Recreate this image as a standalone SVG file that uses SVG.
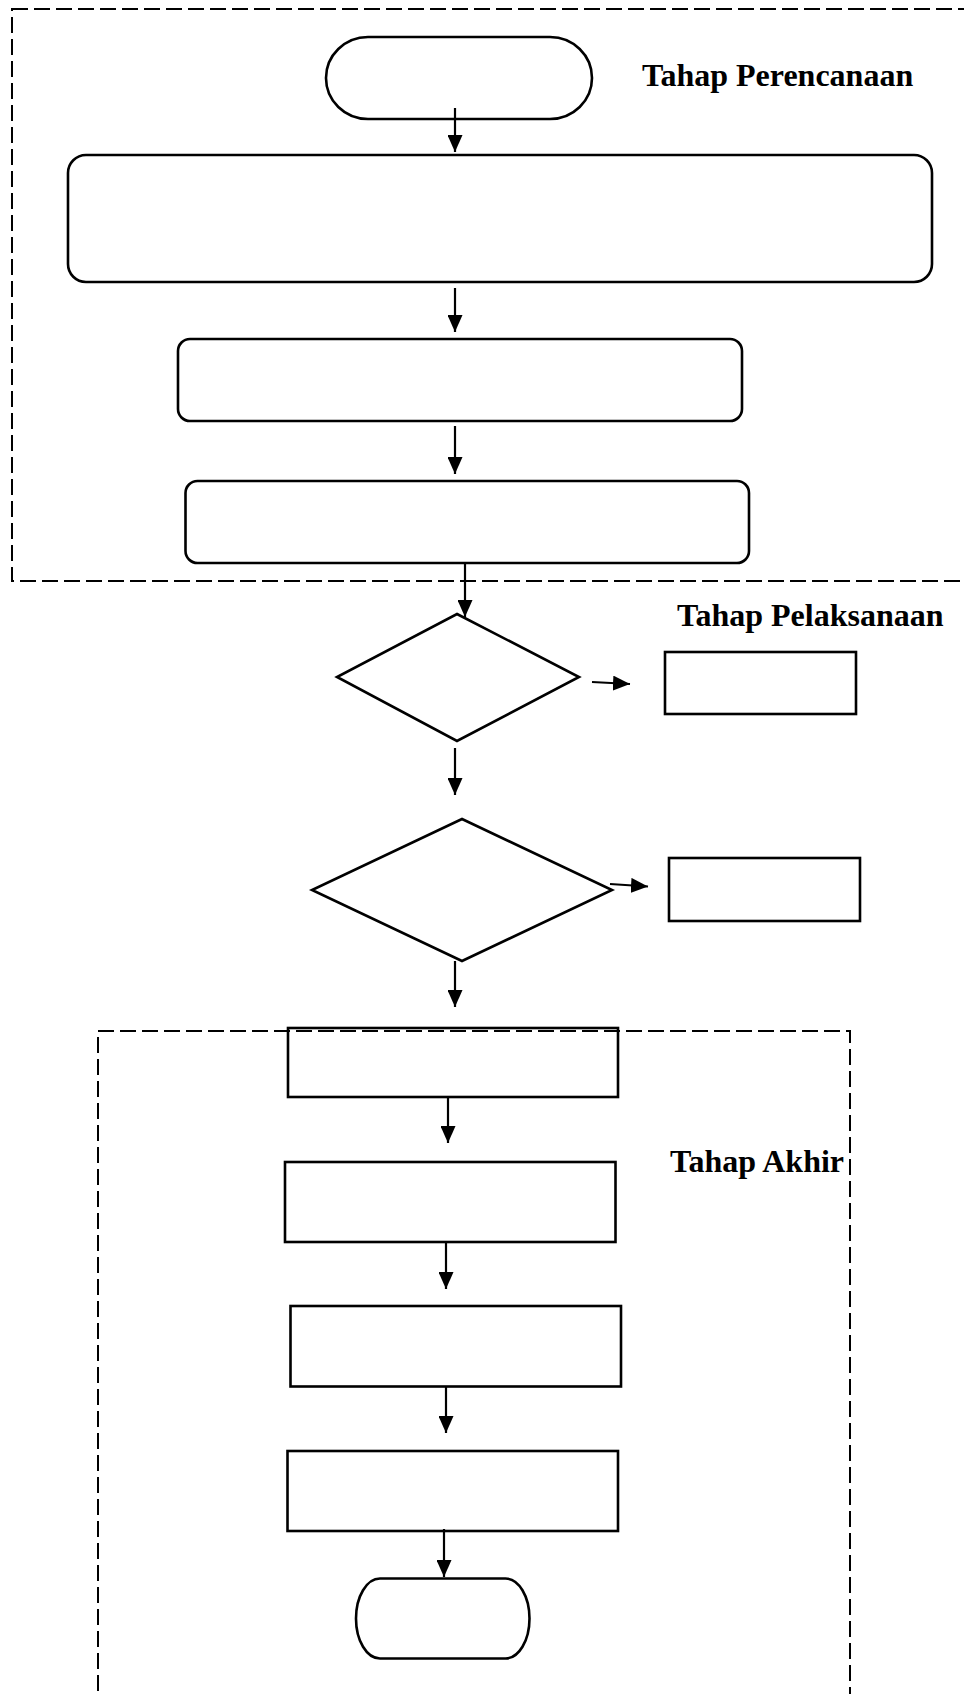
<svg xmlns="http://www.w3.org/2000/svg" width="964" height="1694" viewBox="0 0 964 1694">
<style>
.bg{fill:#ffffff}
.node{fill:none;stroke:#000;stroke-width:2.6}
.zone{fill:none;stroke:#000;stroke-width:2;stroke-dasharray:16 6}
.conn{fill:none;stroke:#000;stroke-width:2.2;marker-end:url(#ah)}
.label{font-family:"Liberation Serif","Times New Roman",serif;font-weight:bold;font-size:32px;fill:#000}
</style>
<defs>
<marker id="ah" viewBox="0 0 17 15" refX="17" refY="7.5" markerWidth="17" markerHeight="15" markerUnits="userSpaceOnUse" orient="auto">
<path d="M0,0 L17,7.5 L0,15 Z" fill="#000"/>
</marker>
</defs>
<rect class="bg" x="0" y="0" width="964" height="1694"/>
<g id="zones">
<rect id="zone-perencanaan" class="zone" x="12" y="9" width="980" height="572"/>
<rect id="zone-akhir" class="zone" x="98" y="1031" width="752" height="700"/>
</g>
<g id="labels">
<text id="label-perencanaan" class="label" x="642" y="86">Tahap Perencanaan</text>
<text id="label-pelaksanaan" class="label" x="677" y="626">Tahap Pelaksanaan</text>
<text id="label-akhir" class="label" x="670" y="1172">Tahap Akhir</text>
</g>
<g id="start"><rect class="node" x="326" y="37" width="266" height="82" rx="42" ry="41"/></g>
<g id="step1"><rect class="node" x="68" y="155" width="864" height="127" rx="18" ry="18"/></g>
<g id="step2"><rect class="node" x="178" y="339" width="564" height="82" rx="12" ry="12"/></g>
<g id="step3"><rect class="node" x="185.5" y="481" width="563.5" height="82" rx="12" ry="12"/></g>
<g id="decision1"><polygon class="node" points="457,614 579,677 457,741 337,677"/></g>
<g id="side1"><rect class="node" x="665" y="652" width="191" height="62"/></g>
<g id="decision2"><polygon class="node" points="462,819 612,890 462,961 312,890"/></g>
<g id="side2"><rect class="node" x="669" y="858" width="191" height="63"/></g>
<g id="step4"><rect class="node" x="288" y="1028" width="330" height="69"/></g>
<g id="step5"><rect class="node" x="285" y="1162" width="330.5" height="80"/></g>
<g id="step6"><rect class="node" x="290.5" y="1306" width="330.5" height="80.5"/></g>
<g id="step7"><rect class="node" x="287.5" y="1451" width="330.5" height="80"/></g>
<g id="end"><rect class="node" x="356" y="1578.5" width="173.5" height="80" rx="24" ry="40"/></g>
<g id="connectors">
<line class="conn" x1="455" y1="108" x2="455" y2="152"/>
<line class="conn" x1="455" y1="288" x2="455" y2="332"/>
<line class="conn" x1="455" y1="426" x2="455" y2="474"/>
<line class="conn" x1="465" y1="563" x2="465" y2="617"/>
<line class="conn" x1="592" y1="682" x2="630" y2="684"/>
<line class="conn" x1="455" y1="748" x2="455" y2="795"/>
<line class="conn" x1="610" y1="884" x2="648" y2="886.5"/>
<line class="conn" x1="455" y1="961" x2="455" y2="1007"/>
<line class="conn" x1="448" y1="1097" x2="448" y2="1143"/>
<line class="conn" x1="446" y1="1242" x2="446" y2="1289"/>
<line class="conn" x1="446" y1="1386" x2="446" y2="1433"/>
<line class="conn" x1="444" y1="1529" x2="444" y2="1577"/>
</g>
</svg>
